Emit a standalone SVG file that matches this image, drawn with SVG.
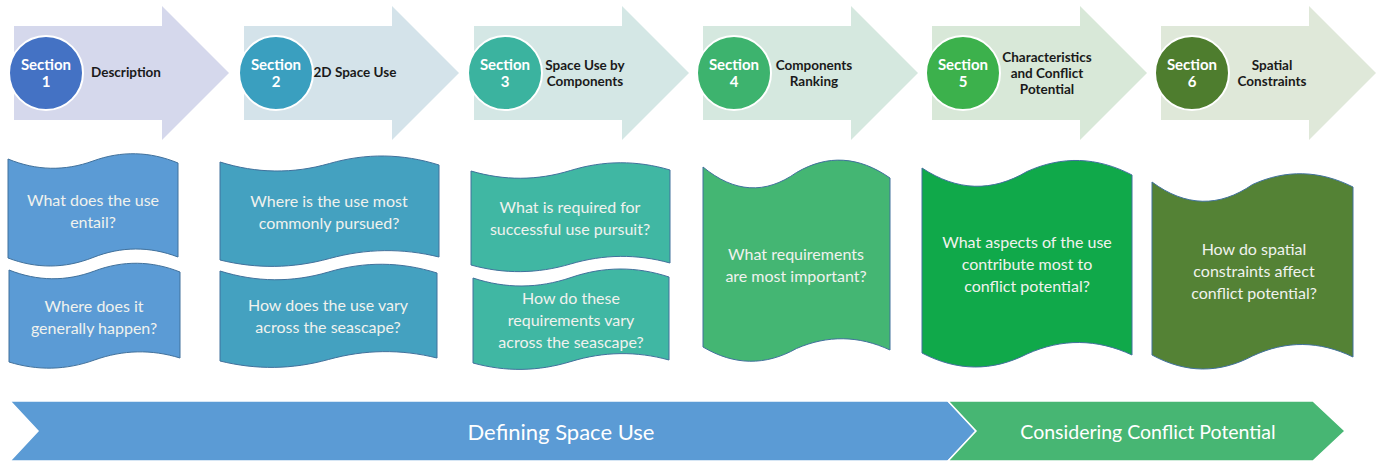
<svg xmlns="http://www.w3.org/2000/svg" width="1381" height="461" viewBox="0 0 1381 461">
<style>
.arr{stroke:none}
.circ{stroke:#ffffff;stroke-width:2}
.sec{font-family:Lato,"Liberation Sans",sans-serif;font-weight:bold;font-size:15px;fill:#ffffff;text-anchor:middle}
.lbl{font-family:Lato,"Liberation Sans",sans-serif;font-weight:bold;font-size:13.5px;fill:#1a1a1a;text-anchor:middle}
.wave{stroke:#41719c;stroke-width:1}
.q{font-family:Lato,"Liberation Sans",sans-serif;font-size:16px;fill:#f0f2ee;text-anchor:middle}
.band{stroke:#ffffff;stroke-width:1.5}
.bt{font-family:Lato,"Liberation Sans",sans-serif;fill:#ffffff;text-anchor:middle}
</style>
<rect width="1381" height="461" fill="#ffffff"/>

<g id="section1">
<path class="arr" fill="#d5d8ec" d="M14,26 H162 V6 L229,73 L162,140 V120 H14 Z"/>
<circle class="circ" cx="46" cy="73" r="37" fill="#4472c4"/>
<text class="sec" x="46" y="70">Section</text>
<text class="sec" x="46" y="87">1</text>
<text class="lbl" x="126" y="77">Description</text>
</g>
<g id="section2">
<path class="arr" fill="#d4e3ea" d="M244,26 H392 V6 L459,73 L392,140 V120 H244 Z"/>
<circle class="circ" cx="276" cy="73" r="37" fill="#3a9fbf"/>
<text class="sec" x="276" y="70">Section</text>
<text class="sec" x="276" y="87">2</text>
<text class="lbl" x="355" y="77">2D Space Use</text>
</g>
<g id="section3">
<path class="arr" fill="#d4e7e5" d="M474,26 H622 V6 L689,73 L622,140 V120 H474 Z"/>
<circle class="circ" cx="505" cy="73" r="37" fill="#3bb39f"/>
<text class="sec" x="505" y="70">Section</text>
<text class="sec" x="505" y="87">3</text>
<text class="lbl" x="585" y="70">Space Use by</text>
<text class="lbl" x="585" y="86">Components</text>
</g>
<g id="section4">
<path class="arr" fill="#d5e8df" d="M703,26 H851 V6 L918,73 L851,140 V120 H703 Z"/>
<circle class="circ" cx="734" cy="73" r="37" fill="#3db36e"/>
<text class="sec" x="734" y="70">Section</text>
<text class="sec" x="734" y="87">4</text>
<text class="lbl" x="814" y="70">Components</text>
<text class="lbl" x="814" y="86">Ranking</text>
</g>
<g id="section5">
<path class="arr" fill="#d8e8d8" d="M932,26 H1080 V6 L1147,73 L1080,140 V120 H932 Z"/>
<circle class="circ" cx="963" cy="73" r="37" fill="#3cb14c"/>
<text class="sec" x="963" y="70">Section</text>
<text class="sec" x="963" y="87">5</text>
<text class="lbl" x="1047" y="62">Characteristics</text>
<text class="lbl" x="1047" y="78">and Conflict</text>
<text class="lbl" x="1047" y="94">Potential</text>
</g>
<g id="section6">
<path class="arr" fill="#dfe8d9" d="M1161,26 H1309 V6 L1376,73 L1309,140 V120 H1161 Z"/>
<circle class="circ" cx="1192" cy="73" r="37" fill="#4e7d2e"/>
<text class="sec" x="1192" y="70">Section</text>
<text class="sec" x="1192" y="87">6</text>
<text class="lbl" x="1272" y="70">Spatial</text>
<text class="lbl" x="1272" y="86">Constraints</text>
</g>

<g id="q1a">
<path class="wave" fill="#5b9bd5" d="M8,159 C36.3,170.7 64.7,171.3 93,161 C121.3,150.7 149.7,151.3 178,163 L178,257 C149.7,246.2 121.3,246.3 93,257.5 C64.7,268.7 36.3,268.8 8,258 Z"/>
<text class="q" x="93" y="206">What does the use</text>
<text class="q" x="93" y="228">entail?</text>
</g>
<g id="q1b">
<path class="wave" fill="#5b9bd5" d="M9,270 C37.5,281.3 66,281.7 94.5,271 C123,260.3 151.5,260.7 180,272 L180,358 C151.5,349.2 123,349.8 94.5,360 C66,370.2 37.5,370.8 9,362 Z"/>
<text class="q" x="94" y="312">Where does it</text>
<text class="q" x="94" y="334">generally happen?</text>
</g>
<g id="q2a">
<path class="wave" fill="#44a1c0" d="M220,162 C256.5,173.5 293,174 329.5,163.5 C366,153 402.5,153.5 439,165 L439,257 C402.5,248 366,248.5 329.5,258.5 C293,268.5 256.5,269 220,260 Z"/>
<text class="q" x="329" y="207">Where is the use most</text>
<text class="q" x="329" y="229">commonly pursued?</text>
</g>
<g id="q2b">
<path class="wave" fill="#44a1c0" d="M220,271 C256.2,282.3 292.3,282.7 328.5,272 C364.7,261.3 400.8,261.7 437,273 L437,358 C400.8,349 364.7,349.5 328.5,359.5 C292.3,369.5 256.2,370 220,361 Z"/>
<text class="q" x="328" y="311">How does the use vary</text>
<text class="q" x="328" y="333">across the seascape?</text>
</g>
<g id="q3a">
<path class="wave" fill="#40b7a3" d="M471,171 C504.2,180.8 537.3,180.7 570.5,170.5 C603.7,160.3 636.8,160.2 670,170 L670,263 C636.8,253.8 603.7,254.2 570.5,264 C537.3,273.8 504.2,274.2 471,265 Z"/>
<text class="q" x="570" y="213">What is required for</text>
<text class="q" x="570" y="235">successful use pursuit?</text>
</g>
<g id="q3b">
<path class="wave" fill="#40b7a3" d="M473,278 C505.7,288.8 538.3,288.7 571,277.5 C603.7,266.3 636.3,266.2 669,277 L669,360 C636.3,351 603.7,351.5 571,361.5 C538.3,371.5 505.7,372 473,363 Z"/>
<text class="q" x="571" y="304">How do these</text>
<text class="q" x="571" y="326">requirements vary</text>
<text class="q" x="571" y="348">across the seascape?</text>
</g>
<g id="q4">
<path class="wave" fill="#44b673" d="M703,167 C734.2,192.8 765.3,194.7 796.5,172.5 C827.7,154.3 858.8,156.2 890,178 L890,350 C858.8,335.5 827.7,335 796.5,348.5 C765.3,366 734.2,365.5 703,347 Z"/>
<text class="q" x="796" y="260">What requirements</text>
<text class="q" x="796" y="282">are most important?</text>
</g>
<g id="q5">
<path class="wave" fill="#10a94a" d="M922,168 C957,191.2 992,192.3 1027,171.5 C1062,155.7 1097,156.8 1132,175 L1132,355 C1097,338.7 1062,338.3 1027,354 C992,371.7 957,371.3 922,353 Z"/>
<text class="q" x="1027" y="248">What aspects of the use</text>
<text class="q" x="1027" y="270">contribute most to</text>
<text class="q" x="1027" y="292">conflict potential?</text>
</g>
<g id="q6">
<path class="wave" fill="#548235" d="M1152,182 C1185.5,206.8 1219,207.7 1252.5,184.5 C1286,169.3 1319.5,170.2 1353,187 L1353,357 C1319.5,340.7 1286,340.3 1252.5,356 C1219,373.7 1185.5,373.3 1152,355 Z"/>
<text class="q" x="1254" y="255">How do spatial</text>
<text class="q" x="1254" y="277">constraints affect</text>
<text class="q" x="1254" y="299">conflict potential?</text>
</g>

<g id="phase-defining">
<path class="band" fill="#5b9bd5" d="M10,401 L948,401 L976,431 L948,461 L10,461 L38,431 Z"/>
<text class="bt" x="561" y="440" font-size="22">Defining Space Use</text>
</g>
<g id="phase-conflict">
<path class="band" fill="#47b673" d="M948,401 L1313,401 L1345,431 L1313,461 L948,461 L976,431 Z"/>
<text class="bt" x="1148" y="439" font-size="19.5">Considering Conflict Potential</text>
</g>
<g id="connectors"></g>
</svg>
